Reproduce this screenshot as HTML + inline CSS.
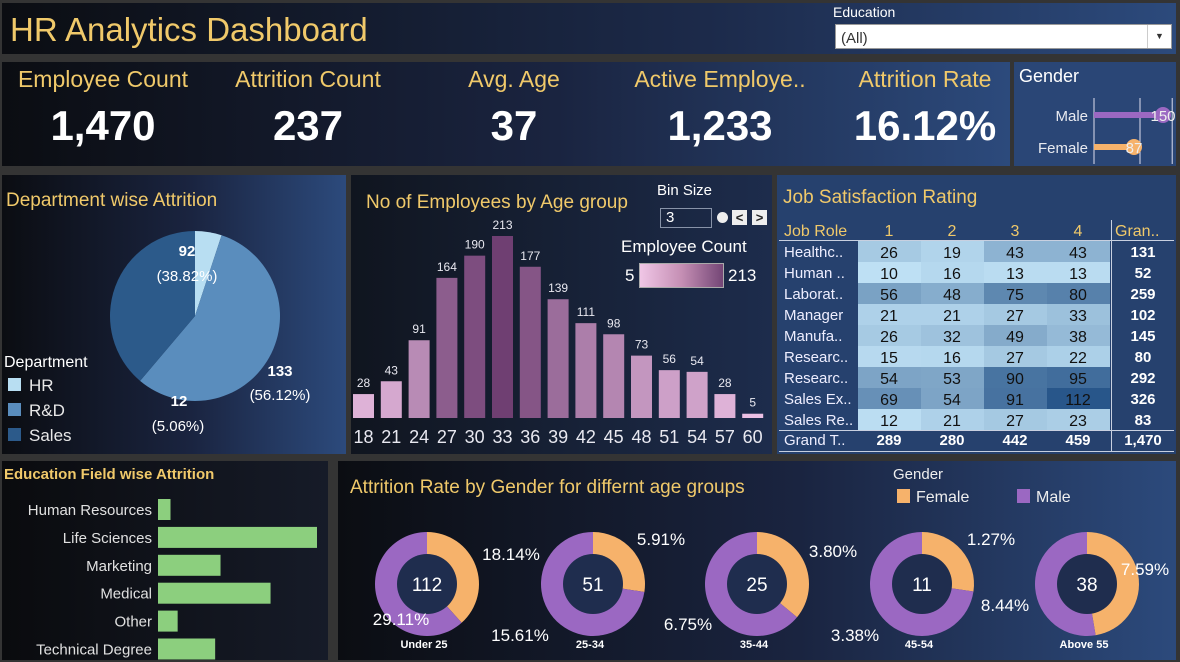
<!DOCTYPE html>
<html><head><meta charset="utf-8"><style>
*{margin:0;padding:0;box-sizing:border-box}
body{width:1180px;height:662px;background:#343434;font-family:"Liberation Sans",sans-serif;position:relative;overflow:hidden}
.p{position:absolute;background:linear-gradient(90deg,#0b0d12 0%,#1a2440 55%,#2c4a7c 100%)}
.gold{color:#f0c96a}
.t{position:absolute;white-space:nowrap}
svg{position:absolute;left:0;top:0}
</style></head><body>
<div class="p" style="left:2px;top:3px;width:1174px;height:51px;background:linear-gradient(90deg,#0b0d12 0%,#1c2a4a 60%,#2c4a7c 100%)"></div>
<div class="t gold" style="left:10px;top:11px;font-size:33px">HR Analytics Dashboard</div>
<div class="t" style="left:833px;top:4px;font-size:14px;color:#fff">Education</div>
<div style="position:absolute;left:835px;top:24px;width:337px;height:25px;background:#fff;border:1px solid #999">
<span style="position:absolute;left:5px;top:5px;font-size:15px;color:#333">(All)</span>
<span style="position:absolute;right:0;top:0;width:24px;height:23px;border-left:1px solid #ccc;font-size:9px;text-align:center;line-height:23px;color:#333">▼</span></div>

<div class="p" style="left:2px;top:62px;width:1008px;height:104px"></div>
<div class="p" style="left:1014px;top:62px;width:162px;height:104px;background:#2a4676"></div>

<div class="p" style="left:2px;top:175px;width:344px;height:279px"></div>
<div class="p" style="left:351px;top:175px;width:421px;height:279px;background:linear-gradient(90deg,#10151f,#1d2c4c)"></div>
<div class="p" style="left:777px;top:175px;width:399px;height:279px;background:#26416e"></div>
<div class="p" style="left:2px;top:461px;width:326px;height:199px;background:linear-gradient(90deg,#0a0b0e,#161b28)"></div>
<div class="p" style="left:338px;top:461px;width:838px;height:199px"></div>

<div id="kpis"></div>

<svg id="s" width="1180" height="662"></svg>

<div class="t" style="left:657px;top:182px;font-size:15px;color:#fff">Bin Size</div>
<div style="position:absolute;left:660px;top:208px;width:52px;height:20px;border:1px solid #8893a8;color:#fff;font-size:15px;padding-left:5px;line-height:18px">3</div>
<div style="position:absolute;left:717px;top:212px;width:11px;height:11px;border-radius:50%;background:#eee"></div>
<div style="position:absolute;left:732px;top:210px;width:15px;height:15px;background:#eee;color:#222;font-size:13px;font-weight:bold;text-align:center;line-height:15px">&lt;</div>
<div style="position:absolute;left:752px;top:210px;width:15px;height:15px;background:#eee;color:#222;font-size:13px;font-weight:bold;text-align:center;line-height:15px">&gt;</div>
<div class="t" style="left:621px;top:237px;font-size:17px;color:#fff">Employee Count</div>
<div class="t" style="left:625px;top:266px;font-size:17px;color:#fff">5</div>
<div style="position:absolute;left:639px;top:263px;width:85px;height:25px;border:1px solid #aaa;background:linear-gradient(90deg,#f0c6e6,#c58fb4,#744676)"></div>
<div class="t" style="left:728px;top:266px;font-size:17px;color:#fff">213</div>

<script>
// KPI data
const kpiLabels=["Employee Count","Attrition Count","Avg. Age","Active Employe..","Attrition Rate"];
const kpiValues=["1,470","237","37","1,233","16.12%"];
// Gender
const genderCats=["Male","Female"];
const genderVals=[150,87];
// Department pie
const deptCats=["HR","R&D","Sales"];
const deptVals=[12,133,92];
// Age histogram
const ageBins=[18,21,24,27,30,33,36,39,42,45,48,51,54,57,60];
const ageCounts=[28,43,91,164,190,213,177,139,111,98,73,56,54,28,5];
// Job satisfaction
const jobRoles=["Healthc..","Human ..","Laborat..","Manager","Manufa..","Researc..","Researc..","Sales Ex..","Sales Re.."];
const satLevels=["1","2","3","4"];
const satVals=[[26,19,43,43],[10,16,13,13],[56,48,75,80],[21,21,27,33],[26,32,49,38],[15,16,27,22],[54,53,90,95],[69,54,91,112],[12,21,27,23]];
// Education field
const eduCats=["Human Resources","Life Sciences","Marketing","Medical","Other","Technical Degree"];
const eduVals=[7,89,35,63,11,32];
// Donuts
const ageGroups=["Under 25","25-34","35-44","45-54","Above 55"];
const groupTotals=[112,51,25,11,38];
const femaleRates=[18.14,5.91,3.80,1.27,7.59];
const maleRates=[29.11,15.61,6.75,3.38,8.44];

const NS="http://www.w3.org/2000/svg";
const svg=document.getElementById('s');
function el(tag,attrs,parent){const e=document.createElementNS(NS,tag);for(const k in attrs)e.setAttribute(k,attrs[k]);(parent||svg).appendChild(e);return e;}
function txt(x,y,s,attrs){const e=el('text',Object.assign({x:x,y:y,fill:'#fff','font-family':'Liberation Sans, sans-serif'},attrs));e.textContent=s;return e;}

// KPIs
const kx=[103,308,514,720,925];
const kd=document.getElementById('kpis');
kpiLabels.forEach((l,i)=>{
 const a=document.createElement('div');a.className='t gold';
 
 
 a.style.cssText=`left:${kx[i]-110}px;width:220px;text-align:center;top:66px;font-size:23px`;a.textContent=l;kd.appendChild(a);
 const b=document.createElement('div');b.className='t';
 
 
 b.style.cssText=`left:${kx[i]-110}px;width:220px;text-align:center;top:102px;font-size:42px;font-weight:bold;color:#fff`;b.textContent=kpiValues[i];kd.appendChild(b);
});

// Gender panel
let t=txt(1019,82,"Gender",{'font-size':18});


const gx=v=>1094+v*0.46;
[0,100,170].forEach(v=>{const l=el('line',{x1:gx(v),x2:gx(v),y1:98,y2:164,stroke:'#dde',"stroke-width":1});
 
 });
const gcol=['#9b68c2','#f6b26b'];
genderCats.forEach((c,i)=>{const y=115+i*32;
 const lb=txt(1088,y+6,c,{'font-size':15,'text-anchor':'end',fill:'#e8eaf0'});
 
 
 const r=el('rect',{x:gx(0),y:y-3,width:gx(genderVals[i])-gx(0),height:6,fill:gcol[i]});
 
 
 const ci=el('circle',{cx:gx(genderVals[i]),cy:y,r:8,fill:gcol[i]});
 
 
 const v=txt(gx(genderVals[i]),y+6,genderVals[i],{'font-size':15,'text-anchor':'middle',fill:'#eee'});
 
 
});

// Department pie
t=txt(6,206,"Department wise Attrition",{'font-size':19,fill:'#f0c96a'});


const pcx=195,pcy=316,pr=85;const pcol=['#b8def2','#5a8dbd','#2c5a8a'];
const ptot=deptVals.reduce((a,b)=>a+b,0);let ang=0;
deptVals.forEach((v,i)=>{const a0=ang,a1=ang+v/ptot*2*Math.PI;ang=a1;
 const p=(a)=>[pcx+pr*Math.sin(a),pcy-pr*Math.cos(a)];const [x0,y0]=p(a0),[x1,y1]=p(a1);
 const s=el('path',{d:`M${pcx},${pcy}L${x0},${y0}A${pr},${pr} 0 ${a1-a0>Math.PI?1:0} 1 ${x1},${y1}Z`,fill:pcol[i]});
 
 
});
const plab=[[179,406,178,431],[280,376,280,400],[187,256,187,281]];
deptVals.forEach((v,i)=>{const pct=(v/ptot*100).toFixed(2)+'%';
 const a=txt(plab[i][0],plab[i][1],v,{'font-size':15,'font-weight':'bold','text-anchor':'middle'});
 
 
 const b=txt(plab[i][2],plab[i][3],'('+pct+')',{'font-size':15,'text-anchor':'middle'});
 
 
});
t=txt(4,367,"Department",{'font-size':16});


deptCats.forEach((c,i)=>{const y=378+i*25;
 const r=el('rect',{x:8,y:y,width:13,height:13,fill:pcol[i]});
 
 
 const l=txt(29,y+13,c,{'font-size':17,fill:'#e8e8e8'});
 
 
});

// Age histogram
t=txt(366,208,"No of Employees by Age group",{'font-size':19,fill:'#f0c96a'});


const base=418,ys=182/213,amin=5,amax=213;
function mix(c1,c2,f){return 'rgb('+c1.map((v,i)=>Math.round(v+(c2[i]-v)*f)).join(',')+')';}
ageBins.forEach((b,i)=>{const v=ageCounts[i];const x=353+i*27.8;const h=v*ys;
 const r=el('rect',{x:x,y:base-h,width:21,height:h,fill:mix([236,192,228],[111,63,114],(v-amin)/(amax-amin))});
 
 
 const l=txt(x+10.5,base-h-7,v,{'font-size':12,'text-anchor':'middle',fill:'#e8e8f0'});
 
 
 const a=txt(x+10.5,443,b,{'font-size':18,'text-anchor':'middle',fill:'#e8e8f0'});
 
 
});

// Job satisfaction heatmap
t=txt(783,203,"Job Satisfaction Rating",{'font-size':19,fill:'#f0c96a'});


const cx0=858,cw=63,ry0=241,rh=21;
t=txt(784,236,"Job Role",{'font-size':16,fill:'#f0c96a'});


satLevels.forEach((s,j)=>{const h=txt(cx0+cw*j+31,236,s,{'font-size':16,fill:'#f0c96a','text-anchor':'middle'});
 
 });
t=txt(1115,236,"Gran..",{'font-size':16,fill:'#f0c96a'});


el('line',{x1:779,x2:1174,y1:240.5,y2:240.5,stroke:'#c8d0e0'});
el('line',{x1:779,x2:1174,y1:430.5,y2:430.5,stroke:'#c8d0e0'});
el('line',{x1:779,x2:1174,y1:451.5,y2:451.5,stroke:'#c8d0e0'});
el('line',{x1:1111.5,x2:1111.5,y1:220,y2:452,stroke:'#c8d0e0'});
const colTot=[0,0,0,0];let gt=0;
jobRoles.forEach((r,i)=>{const y=ry0+i*rh;let rt=0;
 const l=txt(784,y+16,r,{'font-size':15,fill:'#eef'});
 
 
 satVals[i].forEach((v,j)=>{rt+=v;colTot[j]+=v;
  const c=el('rect',{x:cx0+cw*j,y:y,width:cw,height:rh,fill:mix([190,224,244],[40,86,138],(v-10)/(112-10))});
  
  
  const n=txt(cx0+cw*j+31,y+17,v,{'font-size':16,fill:'#111','text-anchor':'middle'});
  
  
 });gt+=rt;
 const g=txt(1143,y+16,rt,{'font-size':15,'font-weight':'bold','text-anchor':'middle'});
 
 
});
t=txt(784,445,"Grand T..",{'font-size':15,fill:'#eef'});


colTot.forEach((v,j)=>{const g=txt(cx0+cw*j+31,445,v,{'font-size':15,'font-weight':'bold','text-anchor':'middle'});
 
 });
t=txt(1143,445,gt.toLocaleString('en-US'),{'font-size':15,'font-weight':'bold','text-anchor':'middle'});



// Education field bars
t=txt(4,479,"Education Field wise Attrition",{'font-size':15,'font-weight':'bold',fill:'#f0c96a'});


const ex=158,es=159/89;
eduCats.forEach((c,i)=>{const y=499+i*27.9;
 const r=el('rect',{x:ex,y:y,width:eduVals[i]*es,height:21,fill:'#8ccf7e'});
 
 
 const l=txt(152,y+16,c,{'font-size':15,fill:'#e0e0e0','text-anchor':'end'});
 
 
});

// Donuts
t=txt(350,493,"Attrition Rate by Gender for differnt age groups",{'font-size':19,fill:'#f0c96a'});


t=txt(893,479,"Gender",{'font-size':15,fill:'#eee'});


[['Female','#f6b26b',897],['Male','#9b68c2',1017]].forEach(d=>{
 const r=el('rect',{x:d[2],y:489,width:13,height:14,fill:d[1]});
 
 
 const l=txt(d[2]+19,502,d[0],{'font-size':16,fill:'#eee'});
 
 
});
const dcx=[427,593,757,922,1087],dcy=584,R=52,r0=30;
const fLab=[[511,560],[661,545],[833,557],[991,545],[1145,575]];
const mLab=[[401,625],[520,641],[688,630],[855,641],[1005,611]];
ageGroups.forEach((g,i)=>{const f=femaleRates[i]/(femaleRates[i]+maleRates[i]);const cx=dcx[i];
 const a1=f*2*Math.PI;const px=(a,r)=>[cx+r*Math.sin(a),dcy-r*Math.cos(a)];
 const [x0,y0]=px(0,R),[x1,y1]=px(a1,R);
 const fs=el('path',{d:`M${cx},${dcy}L${x0},${y0}A${R},${R} 0 ${f>0.5?1:0} 1 ${x1},${y1}Z`,fill:'#f6b26b'});
 
 
 const ms=el('path',{d:`M${cx},${dcy}L${x1},${y1}A${R},${R} 0 ${f>0.5?0:1} 1 ${x0},${y0}Z`,fill:'#9b68c2'});
 
 
 const h=el('circle',{cx:cx,cy:dcy,r:r0,fill:'#1f2d4e'});
 
 
 const n=txt(cx,dcy+7,groupTotals[i],{'font-size':19,'text-anchor':'middle'});
 
 
 const a=txt(fLab[i][0],fLab[i][1],femaleRates[i].toFixed(2)+'%',{'font-size':17,'text-anchor':'middle'});
 
 
 const b=txt(mLab[i][0],mLab[i][1],maleRates[i].toFixed(2)+'%',{'font-size':17,'text-anchor':'middle'});
 
 
 const c=txt(cx-3,648,g,{'font-size':11,'font-weight':'bold','text-anchor':'middle'});
 
 
});
</script>
</body></html>
